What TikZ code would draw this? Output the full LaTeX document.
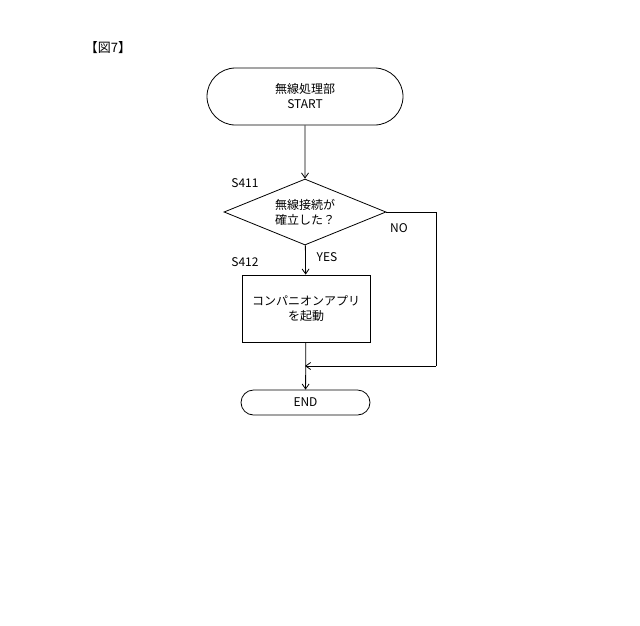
\documentclass[tikz,border=0pt]{standalone}
\usepackage{fontspec}
\setmainfont{Noto Sans CJK JP}
\usetikzlibrary{shapes.geometric,shapes.misc,arrows.meta}
\begin{document}
\begin{tikzpicture}[x=1pt,y=-1pt,font=\fontsize{12}{15}\selectfont,
  ln/.style={draw=black,line width=0.8pt},
  arr/.style={ln,-{Straight Barb[length=5pt,width=7pt]}},
  term/.style={ln,rounded rectangle,align=center,inner sep=0pt},
  lbl/.style={inner sep=0pt}]
\useasboundingbox (0,0) rectangle (640,625);
\node[lbl,font=\fontsize{13}{15}\selectfont] (fig) at (108,48) {【図7】};
\node[term,minimum width=196pt,minimum height=57pt] (start) at (305,96.5) {無線処理部\\START};
\node[ln,diamond,aspect=2.5,minimum width=162pt,minimum height=66pt,inner sep=0pt,align=center] (d) at (305,212) {無線接続が\\確立した？};
\node[ln,rectangle,minimum width=128pt,minimum height=67pt,align=center] (p) at (306,308.5) {コンパニオンアプリ\\を起動};
\node[term,minimum width=129pt,minimum height=25pt] (end) at (305.5,402.5) {END};
\coordinate (j) at (305,366);
\coordinate (r1) at (436,212);
\coordinate (r2) at (436,366);
\node[lbl] (s411) at (245,183) {S411};
\node[lbl] (s412) at (245,262) {S412};
\node[lbl] (yes) at (327,257) {YES};
\node[lbl] (no) at (399,228) {NO};
\draw[arr] (start) -- (d);
\draw[arr] (d) -- (p);
\draw[arr] (p) -- (end);
\draw[ln] (d.east) -- (r1) -- (r2);
\draw[arr] (r2) -- (j);
\end{tikzpicture}
\end{document}
